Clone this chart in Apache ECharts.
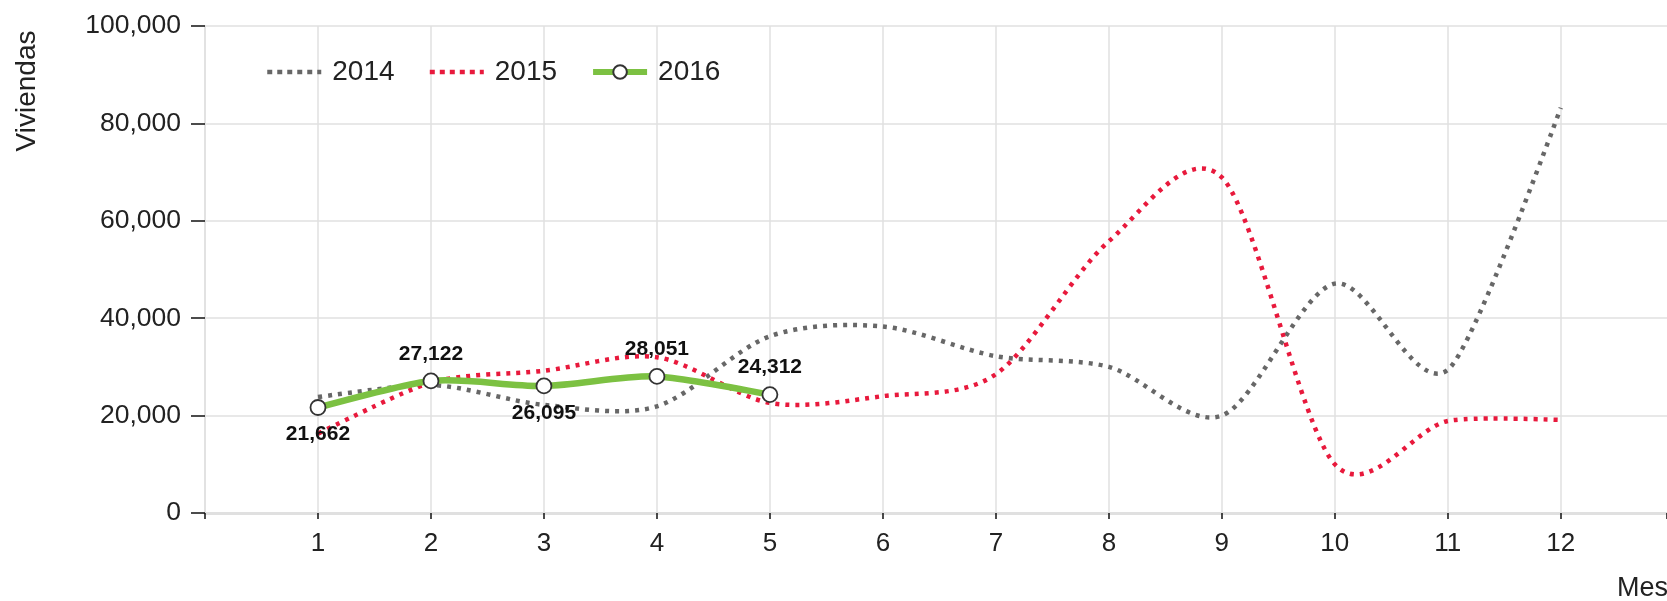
<!DOCTYPE html>
<html>
<head>
<meta charset="utf-8">
<title>Viviendas por mes</title>
<script src="https://cdn.jsdelivr.net/npm/echarts@6/dist/echarts.min.js"></script>
<style>
  html, body { margin: 0; padding: 0; background: #fff; }
  #chart { width: 1667px; height: 601px; }
</style>
</head>
<body>
<div id="chart"></div>
<script>
// Monthly housing figures per year
const months = [1, 2, 3, 4, 5, 6, 7, 8, 9, 10, 11, 12];
const values2014 = [23800, 26300, 22200, 21900, 36300, 38300, 32200, 30000, 20000, 47100, 29400, 83200];
const values2015 = [16300, 26800, 29200, 32000, 22600, 24000, 28500, 55800, 68900, 10000, 18900, 19100];
const months2016 = [1, 2, 3, 4, 5];
const values2016 = [21662, 27122, 26095, 28051, 24312];
const yTicks = [0, 20000, 40000, 60000, 80000, 100000];

const FONT = "'Liberation Sans', Arial, sans-serif";
const TEXT = '#222';
const GRID_LINE = '#e0e0e0';
const GRAY = '#676767';
const RED = '#e8193c';
const GREEN = '#7cc142';

// label side for each 2016 point
const labelSide2016 = ['bottom', 'top', 'bottom', 'top', 'top'];

const pairs = (xs, ys) => xs.map((x, i) => [x, ys[i]]);

// Cardinal spline (tension 0.7) through pixel points, as SVG path data
function cardinalPath(pts, tension) {
  const f = v => v[0].toFixed(2) + ',' + v[1].toFixed(2);
  if (pts.length < 3) return 'M' + pts.map(f).join('L');
  const a = (1 - tension) / 2;
  const tangents = [];
  for (let i = 1; i < pts.length - 1; i++) {
    tangents.push([a * (pts[i + 1][0] - pts[i - 1][0]), a * (pts[i + 1][1] - pts[i - 1][1])]);
  }
  let path = 'M' + f(pts[0]);
  let p0 = pts[1], p = pts[1], t0 = tangents[0], t = t0, pi = 2;
  path += 'Q' + f([p[0] - t0[0] * 2 / 3, p[1] - t0[1] * 2 / 3]) + ',' + f(p);
  if (tangents.length > 1) {
    t = tangents[1];
    p = pts[pi++];
    path += 'C' + f([p0[0] + t0[0], p0[1] + t0[1]]) + ',' + f([p[0] - t[0], p[1] - t[1]]) + ',' + f(p);
    for (let i = 2; i < tangents.length; i++, pi++) {
      p = pts[pi];
      t = tangents[i];
      path += 'S' + f([p[0] - t[0], p[1] - t[1]]) + ',' + f(p);
    }
  }
  const lp = pts[pi];
  path += 'Q' + f([p[0] + t[0] * 2 / 3, p[1] + t[1] * 2 / 3]) + ',' + f(lp);
  return path;
}

// Custom series that draws one smooth curve through a year's values
function curveSeries(xs, ys, style, z) {
  return {
    type: 'custom',
    silent: true,
    z: z,
    encode: { x: 0, y: 1 },
    data: pairs(xs, ys),
    renderItem: (params, api) => {
      if (params.dataIndex !== 0) return null;
      const pts = xs.map((x, i) => api.coord([x, ys[i]]));
      return {
        type: 'path',
        shape: { pathData: cardinalPath(pts, 0.7) },
        style: Object.assign({ fill: 'none' }, style)
      };
    }
  };
}

const chart = echarts.init(document.getElementById('chart'), null, { renderer: 'canvas' });

chart.setOption({
  animation: false,
  backgroundColor: '#fff',
  textStyle: { fontFamily: FONT },
  grid: { left: 205, right: 0, top: 26, bottom: 88, containLabel: false, outerBoundsMode: 'none' },
  legend: {
    left: 260,
    top: 53,
    itemWidth: 54,
    itemHeight: 17,
    itemGap: 33,
    textStyle: { fontFamily: FONT, fontSize: 28, color: TEXT, padding: [0, 0, 0, 6] },
    data: [
      { name: '2014', itemStyle: { opacity: 0 }, lineStyle: { color: GRAY, width: 4.5, type: [5, 5], opacity: 1 } },
      { name: '2015', itemStyle: { opacity: 0 }, lineStyle: { color: RED, width: 4.5, type: [5, 5], opacity: 1 } },
      { name: '2016', lineStyle: { color: GREEN, width: 6, type: 'solid', opacity: 1 } }
    ]
  },
  xAxis: {
    type: 'value',
    min: 0,
    max: 12.94,
    interval: 1,
    axisLine: { show: true, lineStyle: { color: GRID_LINE, width: 3 } },
    axisTick: { show: true, length: 6, lineStyle: { color: '#111', width: 1.5 } },
    splitLine: { show: true, showMaxLine: false, lineStyle: { color: GRID_LINE, width: 1.5 } },
    axisLabel: {
      margin: 18,
      fontFamily: FONT,
      fontSize: 26,
      color: TEXT,
      formatter: v => (months.indexOf(v) >= 0 ? String(v) : '')
    }
  },
  yAxis: {
    type: 'value',
    min: yTicks[0],
    max: yTicks[yTicks.length - 1],
    interval: 20000,
    axisLine: { show: true, lineStyle: { color: GRID_LINE, width: 1.5 } },
    axisTick: { show: true, length: 14, lineStyle: { color: '#111', width: 1.5 } },
    splitLine: { show: true, lineStyle: { color: GRID_LINE, width: 1.5 } },
    axisLabel: {
      margin: 24,
      fontFamily: FONT,
      fontSize: 26.5,
      color: TEXT,
      formatter: v => v.toLocaleString('en-US')
    }
  },
  graphic: [
    {
      type: 'text',
      x: 27,
      y: 91,
      rotation: Math.PI / 2,
      style: { text: 'Viviendas', font: '28px ' + FONT, fill: TEXT, align: 'center', verticalAlign: 'middle' }
    },
    {
      type: 'text',
      x: 1617,
      y: 589,
      style: { text: 'Mes', font: '27px ' + FONT, fill: TEXT, align: 'left', verticalAlign: 'middle' }
    }
  ],
  series: [
    curveSeries(months, values2014, { stroke: GRAY, lineWidth: 4.5, lineDash: [4, 6] }, 2),
    curveSeries(months, values2015, { stroke: RED, lineWidth: 4.5, lineDash: [4, 6] }, 3),
    curveSeries(months2016, values2016, { stroke: GREEN, lineWidth: 6.5, lineCap: 'round' }, 4),
    {
      name: '2014',
      type: 'line',
      symbol: 'none',
      color: GRAY,
      lineStyle: { color: GRAY, opacity: 0 },
      data: pairs(months, values2014)
    },
    {
      name: '2015',
      type: 'line',
      symbol: 'none',
      color: RED,
      lineStyle: { color: RED, opacity: 0 },
      data: pairs(months, values2015)
    },
    {
      name: '2016',
      type: 'line',
      symbol: 'circle',
      symbolSize: 15,
      color: GREEN,
      lineStyle: { color: GREEN, opacity: 0 },
      itemStyle: { color: '#fff', borderColor: '#333', borderWidth: 1.8 },
      label: {
        show: true,
        distance: 8,
        fontFamily: FONT,
        fontSize: 21,
        fontWeight: 'bold',
        color: '#111',
        formatter: p => p.value[1].toLocaleString('en-US')
      },
      data: pairs(months2016, values2016).map((v, i) => ({
        value: v,
        label: { position: labelSide2016[i] }
      })),
      z: 6
    }
  ]
});
</script>
</body>
</html>
